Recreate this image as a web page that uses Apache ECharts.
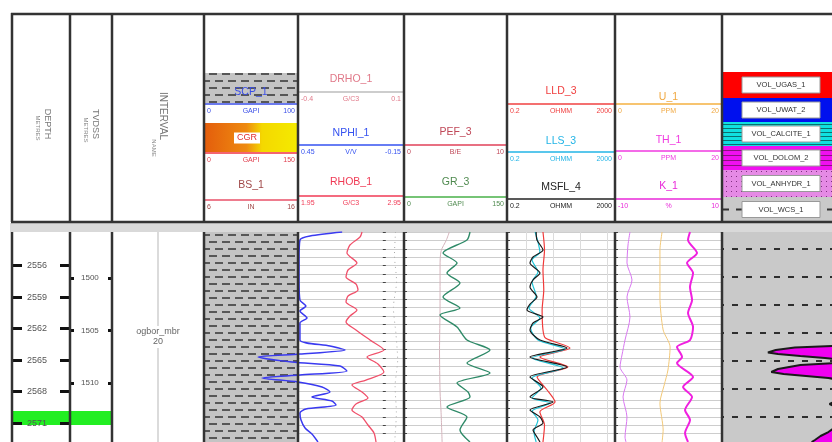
<!DOCTYPE html>
<html>
<head>
<meta charset="utf-8">
<title>well log</title>
<script src="https://cdn.jsdelivr.net/npm/echarts@6/dist/echarts.min.js"></script>
<style>
  html, body { margin: 0; padding: 0; background: #fff; overflow: hidden; }
  #welllog { width: 832px; height: 442px; }
</style>
</head>
<body>
<div id="welllog"></div>
<script>
  // ---------- data ----------
  var depthTop = 2552.8, depthBase = 2572.8;
  var tvdTop = 1495.6, tvdBase = 1515.6;
  var depthTicks = [2556, 2559, 2562, 2565, 2568, 2571];
  var tvdTicks = [1500, 1505, 1510];
  var markerBand = [[2569.85, 2571.18]];
  var intervalNames = ['ogbor_mbr\n20'];
  var intervalBeds = [[2552.8, 2572.8]];
  var shaleBeds = [[2552.8, 2572.8]];
  var wcsBeds = [[2552.8, 2572.8]];

  // header scales [left, right]
  var scpScale = [0, 100], cgrScale = [0, 150], bsScale = [6, 16];
  var drhoScale = [-0.4, 0.1], nphiScale = [0.45, -0.15], rhobScale = [1.95, 2.95];
  var pefScale = [0, 10], grScale = [0, 150];
  var resScale = [0.2, 2000];
  var uScale = [0, 20], thScale = [0, 20], kScale = [-10, 10];
  var volNames = ['VOL_UGAS_1', 'VOL_UWAT_2', 'VOL_CALCITE_1', 'VOL_DOLOM_2', 'VOL_ANHYDR_1', 'VOL_WCS_1'];

  // curves, [depth, value]
  var nphi = [[2552.8, 0.2], [2553.18, 0.382], [2553.56, 0.439], [2555.47, 0.444], [2557.37, 0.444], [2559.28, 0.439],
    [2559.85, 0.405], [2560.32, 0.439], [2560.99, 0.399], [2561.47, 0.439], [2563.09, 0.439], [2563.66, 0.269],
    [2564.04, 0.184], [2564.42, 0.439], [2564.70, 0.676], [2565.18, 0.484], [2565.56, 0.212], [2566.04, 0.173],
    [2566.42, 0.439], [2566.70, 0.654], [2567.09, 0.45], [2567.56, 0.314], [2568.04, 0.269], [2568.51, 0.371],
    [2568.90, 0.258], [2569.28, 0.235], [2569.66, 0.405], [2570.04, 0.439], [2570.70, 0.433], [2571.47, 0.410],
    [2572.04, 0.371], [2572.8, 0.337]];
  var rhob = [[2552.8, 2.554], [2553.28, 2.535], [2554.04, 2.44], [2554.8, 2.412], [2555.75, 2.506], [2556.42, 2.422],
    [2557.09, 2.403], [2557.75, 2.497], [2558.32, 2.516], [2558.9, 2.422], [2559.47, 2.403], [2560.23, 2.506],
    [2560.8, 2.44], [2561.37, 2.403], [2562.13, 2.497], [2563.09, 2.629], [2564.04, 2.761], [2564.7, 2.601],
    [2565.37, 2.704], [2566.13, 2.761], [2566.9, 2.591], [2567.37, 2.459], [2568.04, 2.554], [2568.61, 2.61],
    [2569.18, 2.497], [2569.75, 2.459], [2570.42, 2.554], [2571.18, 2.61], [2571.94, 2.667], [2572.8, 2.686]];
  var drho = [[2552.8, 0.06], [2555, 0.055], [2557.5, 0.065], [2560, 0.05], [2562.5, 0.062], [2565, 0.07],
    [2567.5, 0.058], [2570, 0.064], [2572.8, 0.056]];
  var pef = [[2552.8, 4.4], [2553.6, 4.1], [2554.6, 3.6], [2556, 3.5], [2560, 3.5], [2564, 3.45], [2568, 3.5],
    [2570, 3.6], [2572.8, 3.7]];
  var gr = [[2552.8, 96.1], [2553.56, 91.7], [2554.8, 56.8], [2555.75, 77.2], [2556.7, 62.6], [2557.66, 81.5],
    [2558.99, 56.8], [2560.04, 81.5], [2560.7, 52.4], [2561.85, 77.2], [2563.09, 91.7], [2564.04, 125.2],
    [2565.28, 91.7], [2566.23, 125.2], [2567.18, 77.2], [2568.04, 93.2], [2568.51, 96.1], [2569.47, 62.6],
    [2570.42, 91.7], [2571.66, 81.5], [2572.8, 96.1]];
  var lld = [[2552.8, 4.3], [2554.51, 4.9], [2556.42, 4.3], [2558.32, 4.6], [2560.23, 4.0], [2562.13, 4.3],
    [2562.9, 5.3], [2563.85, 43], [2564.7, 3.3], [2565.66, 36], [2566.61, 2.6], [2567.85, 6.1], [2568.99, 12],
    [2569.94, 3.3], [2571.18, 4.9], [2572.8, 4.3]];
  var lls = [[2552.8, 2.2], [2553.75, 2.8], [2554.7, 3.3], [2555.47, 1.7], [2556.61, 2.8], [2557.56, 1.7],
    [2558.9, 2.4], [2560.04, 1.3], [2560.99, 3.3], [2561.94, 1.5], [2563.09, 2.8], [2563.94, 28], [2564.8, 1.7],
    [2565.75, 24], [2566.7, 1.7], [2567.66, 3.6], [2568.61, 1.7], [2569.09, 8.0], [2569.85, 1.7], [2570.7, 2.8],
    [2571.85, 2.0], [2572.8, 2.4]];
  var msfl = [[2552.8, 2.4], [2553.56, 2.58], [2554.51, 4.31], [2555.18, 1.84], [2555.75, 1.42], [2556.7, 3.34],
    [2557.37, 1.84], [2558.04, 1.42], [2558.99, 2.58], [2559.66, 1.42], [2560.23, 1.1], [2560.9, 4.31],
    [2561.47, 1.84], [2562.13, 1.42], [2563.09, 3.34], [2563.85, 33.4], [2564.7, 1.42], [2565.66, 33.4],
    [2566.61, 1.42], [2567.56, 4.31], [2568.51, 1.42], [2568.99, 10.1], [2569.75, 1.42], [2570.42, 3.34],
    [2570.99, 4.31], [2571.66, 1.84], [2572.33, 2.58], [2572.8, 3.34]];
  var uran = [[2552.8, 8.8], [2554.51, 8.4], [2558.99, 8.4], [2562.13, 9.0], [2563.75, 10.3], [2565.94, 9.9],
    [2567.37, 9.2], [2569.09, 8.4], [2571.66, 9.0], [2572.8, 8.8]];
  var thor = [[2552.8, 2.8], [2554.04, 2.43], [2555.75, 2.24], [2557.37, 3.18], [2558.99, 2.24], [2560.9, 2.8],
    [2563.09, 1.87], [2564.51, 1.31], [2565.66, 0.94], [2566.9, 2.24], [2568.51, 1.5], [2570.42, 2.24],
    [2572.33, 1.87], [2572.8, 2.05]];
  var pota = [[2552.8, 4.02], [2553.56, 3.65], [2554.8, 5.33], [2555.75, 3.46], [2556.7, 4.59], [2558.04, 4.02],
    [2559.28, 4.4], [2560.51, 3.65], [2561.85, 4.59], [2563.09, 4.02], [2563.75, 1.59], [2564.7, 2.53],
    [2565.28, 1.59], [2566.61, 4.59], [2567.56, 2.72], [2568.51, 4.4], [2569.75, 3.09], [2570.7, 4.02],
    [2571.94, 3.09], [2572.8, 3.65]];
  var volDolom = [[2552.8, 0], [2563.66, 0], [2563.80, 0.35], [2564.04, 0.52], [2564.28, 0.59], [2564.42, 0.5],
    [2564.61, 0.3], [2564.80, 0.08], [2564.90, 0], [2565.28, 0], [2565.47, 0.3], [2565.85, 0.5], [2566.13, 0.56],
    [2566.32, 0.45], [2566.51, 0.25], [2566.70, 0.05], [2566.80, 0], [2568.99, 0], [2569.18, 0.04], [2569.37, 0],
    [2571.47, 0], [2571.85, 0.05], [2572.23, 0.12], [2572.61, 0.17], [2572.8, 0.2]];

  // ---------- layout ----------
  var FONT = 'Liberation Sans';
  var edges = [12, 70, 112, 204, 298, 404, 507, 615, 722, 834];
  var bodyTop = 232, bodyH = 210;

  function makePattern(w, h, bg, draw) {
    var c = document.createElement('canvas');
    c.width = w; c.height = h;
    var ctx = c.getContext('2d');
    ctx.fillStyle = bg;
    ctx.fillRect(0, 0, w, h);
    draw(ctx);
    return {image: c, repeat: 'repeat'};
  }
  var shalePat = makePattern(26, 14, '#c4c4c4', function (ctx) {
    ctx.fillStyle = '#575757';
    ctx.fillRect(1, 3, 8, 2); ctx.fillRect(14, 3, 8, 2);
    ctx.fillRect(7, 10, 8, 2); ctx.fillRect(20, 10, 6, 2); ctx.fillRect(0, 10, 2, 2);
  });
  var wcsPat = makePattern(14, 28, '#c9c9c9', function (ctx) {
    ctx.fillStyle = '#2e2e2e';
    ctx.fillRect(4, 24, 6, 2);
  });
  var calcPat = makePattern(4, 4, '#10e0e0', function (ctx) {
    ctx.fillStyle = '#0a6f6f'; ctx.fillRect(0, 0, 4, 1);
  });
  var dolPat = makePattern(4, 5, '#f010f0', function (ctx) {
    ctx.fillStyle = '#8a1080'; ctx.fillRect(0, 0, 4, 1);
  });
  var anhPat = makePattern(5, 5, '#e58ae5', function (ctx) {
    ctx.fillStyle = '#803080'; ctx.fillRect(1, 1, 1, 1);
  });

  // ---------- header graphics ----------
  var g = [];
  function line(x1, y1, x2, y2, color, w, dash, z) {
    g.push({type: 'line', silent: true, z: z || 50, shape: {x1: x1, y1: y1, x2: x2, y2: y2},
      style: {stroke: color, lineWidth: w, lineDash: dash || null}});
  }
  function rect(x, y, w, h, fill, stroke, z) {
    g.push({type: 'rect', silent: true, z: z || 5, shape: {x: x, y: y, width: w, height: h},
      style: {fill: fill, stroke: stroke || null, lineWidth: 1}});
  }
  function text(x, y, s, color, size, align, rot, bg) {
    g.push({type: 'text', silent: true, z: 60, x: x, y: y, rotation: rot || 0,
      style: {text: s, fill: color, fontSize: size, fontFamily: FONT,
        align: align || 'center', textAlign: align || 'center',
        verticalAlign: 'middle', textVerticalAlign: 'middle',
        backgroundColor: bg || null, padding: bg ? [1, 3] : 0}});
  }
  function curveHead(x0, x1, name, color, nameY, lineY, scale, unit, lineColor) {
    text((x0 + x1) / 2, nameY, name, color, 10.5);
    line(x0 + 1, lineY, x1 - 1, lineY, lineColor || color, 1.6, null, 20);
    text(x0 + 3, lineY + 7, String(scale[0]), color, 7, 'left');
    text((x0 + x1) / 2, lineY + 7, unit, color, 7);
    text(x1 - 3, lineY + 7, String(scale[1]), color, 7, 'right');
  }

  // grey gap between header and body
  rect(10, 223, 824, 9, '#d9d9d9', null, 1);
  // frame
  line(11, 14, 834, 14, '#333', 2.5);
  line(11, 222, 834, 222, '#333', 2.5);
  edges.slice(0, 9).forEach(function (x) {
    line(x, 13, x, 222, '#333', 2.5, null, 100);
    line(x, bodyTop, x, 442, '#333', 2.5, null, 100);
  });

  var ROT = -Math.PI / 2;
  text(47, 124, 'DEPTH', '#777', 9, 'center', ROT);
  text(38, 128, 'METRES', '#888', 6, 'center', ROT);
  text(95, 124, 'TVDSS', '#777', 9, 'center', ROT);
  text(86, 130, 'METRES', '#888', 6, 'center', ROT);
  text(163, 116, 'INTERVAL', '#777', 10, 'center', ROT);
  text(154, 148, 'NAME', '#888', 6, 'center', ROT);

  // track 4
  rect(205, 73, 92, 30, shalePat, null, 5);
  curveHead(204, 298, 'SCP_1', '#3a4ee8', 92, 104, scpScale, 'GAPI');
  rect(205, 123, 92, 29, {type: 'linear', x: 0, y: 0, x2: 1, y2: 0, colorStops: [
    {offset: 0, color: '#e45e0c'}, {offset: 0.45, color: '#ee8a10'},
    {offset: 0.62, color: '#f4d800'}, {offset: 1, color: '#f4ea00'}]}, null, 5);
  text(247, 138, 'CGR', '#e03030', 9, 'center', 0, '#ffffff');
  line(205, 153, 297, 153, '#f03040', 1.6, null, 20);
  text(207, 160, String(cgrScale[0]), '#e04050', 7, 'left');
  text(251, 160, 'GAPI', '#e04050', 7);
  text(295, 160, String(cgrScale[1]), '#e04050', 7, 'right');
  curveHead(204, 298, 'BS_1', '#a04848', 185, 200, bsScale, 'IN', '#e85068');

  // track 5
  curveHead(298, 404, 'DRHO_1', '#e07888', 79, 92, drhoScale, 'G/C3', '#bdbdbd');
  curveHead(298, 404, 'NPHI_1', '#3552f0', 133, 145, nphiScale, 'V/V');
  curveHead(298, 404, 'RHOB_1', '#f03a55', 182, 196, rhobScale, 'G/C3');
  // track 6
  curveHead(404, 507, 'PEF_3', '#c04858', 132, 145, pefScale, 'B/E', '#e04058');
  curveHead(404, 507, 'GR_3', '#4f8a4f', 182, 197, grScale, 'GAPI', '#48b048');
  // track 7
  curveHead(507, 615, 'LLD_3', '#f04040', 91, 104, resScale, 'OHMM');
  curveHead(507, 615, 'LLS_3', '#22b4e6', 141, 152, resScale, 'OHMM');
  curveHead(507, 615, 'MSFL_4', '#222222', 187, 199, resScale, 'OHMM');
  // track 8
  curveHead(615, 722, 'U_1', '#f0a840', 97, 104, uScale, 'PPM', '#f4b040');
  curveHead(615, 722, 'TH_1', '#f03ae0', 140, 151, thScale, 'PPM');
  curveHead(615, 722, 'K_1', '#e828d8', 186, 199, kScale, '%');

  // track 9 volume key
  var volFills = ['#ff0000', '#0010ee', calcPat, dolPat, anhPat, '#c9c9c9'];
  var volY = [72, 98, 122, 146, 170, 197, 222];
  volNames.forEach(function (n, i) {
    rect(723, volY[i], 111, volY[i + 1] - volY[i], volFills[i], null, 5);
    var mid = (volY[i] + volY[i + 1]) / 2;
    if (i === 5) line(723, mid, 834, mid, '#333', 2, [6, 7], 6);
    rect(742, mid - 8, 78, 16, '#ffffff', '#999', 8);
    text(781, mid, n, '#333', 7.5);
  });

  // ---------- custom renderers ----------
  function renderBand(params, api) {
    var p0 = api.coord([0, api.value(0)]);
    var p1 = api.coord([1, api.value(1)]);
    return {type: 'rect', shape: {x: p0[0], y: p0[1], width: p1[0] - p0[0], height: p1[1] - p0[1]},
      style: {fill: '#22ee22'}};
  }
  function patternBed(pat) {
    return function (params, api) {
      var p0 = api.coord([0, api.value(0)]);
      var p1 = api.coord([1, api.value(1)]);
      return {type: 'rect', shape: {x: p0[0], y: p0[1], width: p1[0] - p0[0], height: p1[1] - p0[1]},
        style: {fill: pat}};
    };
  }
  function renderInterval(params, api) {
    var t = api.value(0), b = api.value(1);
    var p0 = api.coord([0.5, t]), p1 = api.coord([0.5, b]), pm = api.coord([0.5, (t + b) / 2]);
    return {type: 'group', children: [
      {type: 'line', shape: {x1: p0[0], y1: p0[1], x2: p1[0], y2: p1[1]}, style: {stroke: '#cfcfcf', lineWidth: 1.5}},
      {type: 'text', x: pm[0], y: pm[1], style: {text: intervalNames[params.dataIndex], fill: '#666',
        fontSize: 9, fontFamily: FONT, align: 'center', verticalAlign: 'middle', lineHeight: 10,
        backgroundColor: '#fff', padding: [1, 2]}}
    ]};
  }
  function renderVolume(params, api) {
    if (params.dataIndex !== 0) return null;
    var pts = [api.coord([0, volDolom[0][0]])];
    volDolom.forEach(function (r) { pts.push(api.coord([r[1], r[0]])); });
    pts.push(api.coord([0, volDolom[volDolom.length - 1][0]]));
    return {type: 'polygon', shape: {points: pts}, style: {fill: '#f000f0'}};
  }

  // ---------- axes ----------
  var grids = [];
  for (var i = 0; i < edges.length - 1; i++) {
    grids.push({left: edges[i], top: bodyTop, width: edges[i + 1] - edges[i], height: bodyH,
      containLabel: false, outerBoundsMode: 'none'});
  }
  // NPHI is allowed to wrap over the lithology track: its grid spans tracks 4 and 5
  grids.push({left: edges[3], top: bodyTop, width: edges[5] - edges[3], height: bodyH,
    containLabel: false, outerBoundsMode: 'none'});
  var nphiSpan = nphiScale[0] - nphiScale[1];
  var nphiWrapMax = nphiScale[0] + nphiSpan * (edges[4] - edges[3]) / (edges[5] - edges[4]);

  function hx(grid, min, max, extra) {
    return Object.assign({gridIndex: grid, type: 'value', min: min, max: max, show: false}, extra || {});
  }
  function depthY(grid, lines) {
    return {gridIndex: grid, type: 'value', inverse: true, min: depthTop, max: depthBase, interval: 0.8,
      show: lines, axisLine: {show: false}, axisLabel: {show: false},
      axisTick: {show: lines, inside: true, length: 3, lineStyle: {color: '#444'}},
      splitLine: {show: lines, lineStyle: {color: '#cdcdcd', width: 1}}};
  }
  var labelStyle = {color: '#555', fontSize: 9, fontFamily: FONT, formatter: function (v) { return String(v); }};

  var xAxes = [
    hx(0, 0, 1), hx(1, 0, 1), hx(2, 0, 1), hx(3, 0, 1),
    hx(9, nphiScale[1], nphiWrapMax, {inverse: true}),       // 4 NPHI (wraps)
    hx(4, rhobScale[0], rhobScale[1]),                        // 5 RHOB
    hx(4, drhoScale[0], drhoScale[1]),                        // 6 DRHO
    hx(5, pefScale[0], pefScale[1]),                          // 7 PEF
    hx(5, grScale[0], grScale[1]),                            // 8 GR
    {gridIndex: 6, type: 'log', logBase: 10, min: resScale[0], max: resScale[1], show: true,
      axisLine: {show: false}, axisTick: {show: false}, axisLabel: {show: false},
      splitLine: {show: true, lineStyle: {color: '#dcdcdc', width: 1}}},  // 9 resistivity
    hx(7, uScale[0], uScale[1]),                              // 10 U
    hx(7, thScale[0], thScale[1]),                            // 11 TH
    hx(7, kScale[0], kScale[1]),                              // 12 K
    hx(8, 0, 1, {inverse: true})                              // 13 volume
  ];
  var yAxes = [
    {gridIndex: 0, type: 'value', inverse: true, min: depthTop, max: depthBase, position: 'left', z: 10,
      axisLine: {show: false}, splitLine: {show: false},
      axisTick: {show: true, inside: true, length: 10, customValues: depthTicks, lineStyle: {color: '#111', width: 3}},
      axisLabel: Object.assign({show: true, inside: true, margin: 15, customValues: depthTicks}, labelStyle)},
    {gridIndex: 0, type: 'value', inverse: true, min: depthTop, max: depthBase, position: 'right', z: 10,
      axisLine: {show: false}, splitLine: {show: false}, axisLabel: {show: false},
      axisTick: {show: true, inside: true, length: 10, customValues: depthTicks, lineStyle: {color: '#111', width: 3}}},
    {gridIndex: 1, type: 'value', inverse: true, min: tvdTop, max: tvdBase, position: 'left', z: 10,
      axisLine: {show: false}, splitLine: {show: false},
      axisTick: {show: true, inside: true, length: 4, customValues: tvdTicks, lineStyle: {color: '#111', width: 3}},
      axisLabel: Object.assign({show: true, inside: true, margin: 11, customValues: tvdTicks}, labelStyle, {fontSize: 8})},
    {gridIndex: 1, type: 'value', inverse: true, min: tvdTop, max: tvdBase, position: 'right', z: 10,
      axisLine: {show: false}, splitLine: {show: false}, axisLabel: {show: false},
      axisTick: {show: true, inside: true, length: 4, customValues: tvdTicks, lineStyle: {color: '#111', width: 3}}},
    depthY(1, false),  // 4 hidden depth in tvd track
    depthY(2, false),  // 5 interval
    depthY(3, false),  // 6 lithology
    depthY(4, true),   // 7
    depthY(5, true),   // 8
    depthY(6, true),   // 9
    depthY(7, true),   // 10
    depthY(8, false),  // 11 volumes
    depthY(9, false)   // 12 NPHI wrap grid
  ];

  function curve(name, data, xi, yi, color, width, extra) {
    return Object.assign({name: name, type: 'line', xAxisIndex: xi, yAxisIndex: yi, data: data,
      encode: {x: 1, y: 0}, symbol: 'none', smooth: 0.25, silent: true,
      lineStyle: {color: color, width: width}}, extra || {});
  }

  var series = [
    {type: 'custom', name: 'marker', xAxisIndex: 0, yAxisIndex: 0, data: markerBand, encode: {y: [0, 1]}, renderItem: renderBand, silent: true, z: 1},
    {type: 'custom', name: 'marker_tvd', xAxisIndex: 1, yAxisIndex: 4, data: markerBand, encode: {y: [0, 1]}, renderItem: renderBand, silent: true, z: 1},
    {type: 'custom', name: 'interval', xAxisIndex: 2, yAxisIndex: 5, data: intervalBeds, encode: {y: [0, 1]}, renderItem: renderInterval, silent: true},
    {type: 'custom', name: 'lith', xAxisIndex: 3, yAxisIndex: 6, data: shaleBeds, encode: {y: [0, 1]}, renderItem: patternBed(shalePat), silent: true, z: 1},
    curve('DRHO_1', drho, 6, 7, '#a8a8a8', 1, {lineStyle: {color: '#a8a8a8', width: 1, type: [1, 4]}}),
    curve('RHOB_1', rhob, 5, 7, '#f0506a', 1.3),
    curve('NPHI_1', nphi, 4, 12, '#3a3af0', 1.5, {z: 6}),
    curve('PEF_3', pef, 7, 8, '#d4b4bc', 1),
    curve('GR_3', gr, 8, 8, '#2f8a68', 1.4),
    curve('LLD_3', lld, 9, 9, '#f03a3a', 1.2),
    curve('LLS_3', lls, 9, 9, '#20c4d8', 1.2),
    curve('MSFL_4', msfl, 9, 9, '#1a1a1a', 1.2),
    curve('U_1', uran, 10, 10, '#f2c878', 1),
    curve('TH_1', thor, 11, 10, '#d878f0', 1),
    curve('K_1', pota, 12, 10, '#f020e0', 2),
    {type: 'custom', name: 'VOL_WCS_1', xAxisIndex: 13, yAxisIndex: 11, data: wcsBeds, encode: {y: [0, 1]}, renderItem: patternBed(wcsPat), silent: true, z: 1},
    {type: 'custom', name: 'VOL_DOLOM_2', xAxisIndex: 13, yAxisIndex: 11, data: volDolom, encode: {x: 1, y: 0}, renderItem: renderVolume, silent: true, z: 2},
    curve('VOL_DOLOM_2_edge', volDolom, 13, 11, '#1a1a1a', 2, {smooth: false, z: 3})
  ];

  var chart = echarts.init(document.getElementById('welllog'));
  chart.setOption({
    animation: false,
    backgroundColor: '#ffffff',
    textStyle: {fontFamily: FONT},
    grid: grids,
    xAxis: xAxes,
    yAxis: yAxes,
    series: series,
    graphic: {elements: g}
  });
</script>
</body>
</html>
